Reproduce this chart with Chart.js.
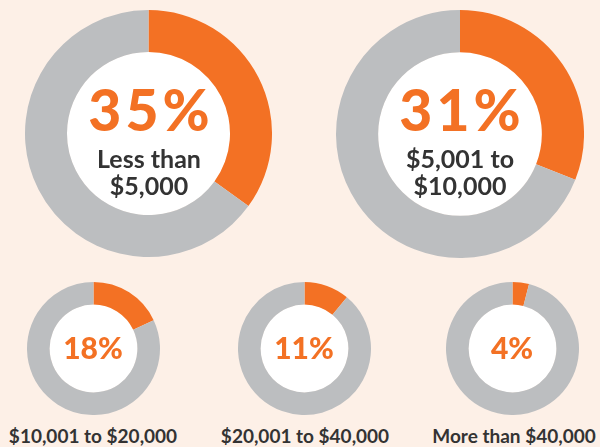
<!DOCTYPE html>
<html>
<head>
<meta charset="utf-8">
<script src="https://cdn.jsdelivr.net/npm/chart.js@4.4.1/dist/chart.umd.min.js"></script>
<style>
  html, body { margin: 0; padding: 0; }
  body { width: 600px; height: 447px; background: #FDF0E7; position: relative; overflow: hidden;
         font-family: Lato, "Open Sans", sans-serif; }
  canvas { position: absolute; }
  .t { position: absolute; text-align: center; white-space: nowrap; }
  .pct { color: #F37124; font-weight: 900; }
  .sub { color: #333333; font-weight: 700; }
  .big { font-size: 57px; line-height: 56px; letter-spacing: 4px; padding-left: 4px; }
</style>
</head>
<body>
<canvas id="c0" width="247" height="247" style="left:25px;top:10px"></canvas>
<canvas id="c1" width="248" height="248" style="left:336px;top:10px"></canvas>
<canvas id="c2" width="133" height="133" style="left:27px;top:282px"></canvas>
<canvas id="c3" width="133" height="133" style="left:238px;top:282px"></canvas>
<canvas id="c4" width="133" height="133" style="left:446px;top:282px"></canvas>

<div class="t pct big" style="left:47px;width:200px;top:81px" id="p0"></div>
<div class="t sub" style="left:49px;width:200px;top:145px;font-size:25px;line-height:27px" id="s0"></div>
<div class="t pct big" style="left:358px;width:200px;top:81px" id="p1"></div>
<div class="t sub" style="left:360px;width:200px;top:145px;font-size:25px;line-height:27px" id="s1"></div>

<div class="t pct" style="left:43px;width:100px;top:332px;font-size:30px;line-height:30px" id="p2"></div>
<div class="t pct" style="left:254px;width:100px;top:332px;font-size:30px;line-height:30px" id="p3"></div>
<div class="t pct" style="left:462px;width:100px;top:332px;font-size:30px;line-height:30px" id="p4"></div>

<div class="t sub" style="left:-7px;width:200px;top:426px;font-size:19px;line-height:19px" id="l2"></div>
<div class="t sub" style="left:205px;width:200px;top:426px;font-size:19px;line-height:19px" id="l3"></div>
<div class="t sub" style="left:414px;width:200px;top:426px;font-size:19px;line-height:19px" id="l4"></div>

<script>
// Data
const categories = ["Less than $5,000", "$5,001 to $10,000", "$10,001 to $20,000", "$20,001 to $40,000", "More than $40,000"];
const centerLines = [["Less than", "$5,000"], ["$5,001 to", "$10,000"]];
const shares = [35, 31, 18, 11, 4];
const remainders = [65, 69, 82, 89, 96];

const ORANGE = "#F37124";
const GRAY = "#BCBEC0";

const whiteHole = {
  id: "whiteHole",
  beforeDatasetsDraw(chart) {
    const arc = chart.getDatasetMeta(0).data[0];
    if (!arc) return;
    const ctx = chart.ctx;
    ctx.save();
    ctx.beginPath();
    ctx.arc(arc.x, arc.y, arc.innerRadius, 0, Math.PI * 2);
    ctx.fillStyle = "#FFFFFF";
    ctx.fill();
    ctx.restore();
  }
};

categories.forEach((cat, i) => {
  new Chart(document.getElementById("c" + i), {
    type: "doughnut",
    data: {
      labels: [cat, "Other"],
      datasets: [{
        data: [shares[i], remainders[i]],
        backgroundColor: [ORANGE, GRAY],
        borderWidth: 0,
        hoverOffset: 0
      }]
    },
    options: {
      responsive: false,
      animation: false,
      cutout: "66%",
      rotation: 0,
      layout: { padding: 0 },
      plugins: { legend: { display: false }, tooltip: { enabled: false } }
    },
    plugins: [whiteHole]
  });
  document.getElementById("p" + i).textContent = shares[i] + "%";
  if (i < 2) {
    document.getElementById("s" + i).innerHTML = centerLines[i].join("<br>");
  } else {
    document.getElementById("l" + i).textContent = cat;
  }
});
</script>
</body>
</html>
